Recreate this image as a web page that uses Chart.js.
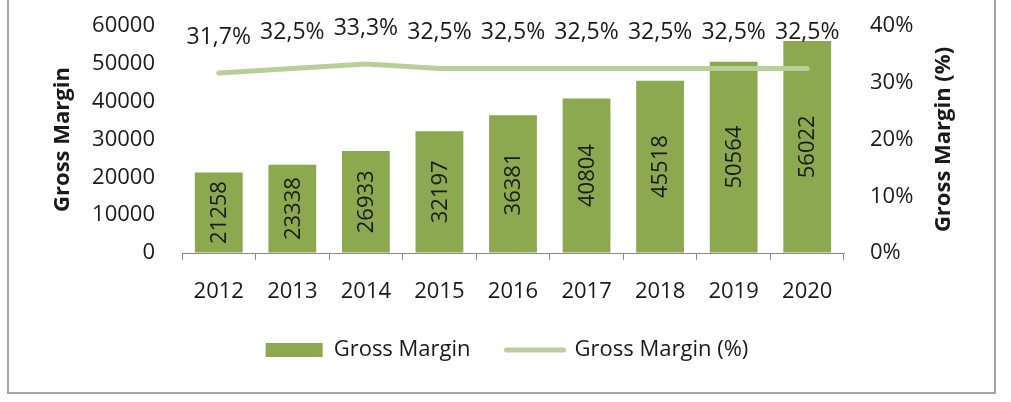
<!DOCTYPE html>
<html>
<head>
<meta charset="utf-8">
<script src="https://cdn.jsdelivr.net/npm/chart.js@4/dist/chart.umd.min.js"></script>
<style>
  html, body { margin: 0; padding: 0; background: #fff; }
  #wrap { position: relative; width: 1011px; height: 402px; overflow: hidden; }
  #frame { position: absolute; left: 7px; top: -3px; width: 989px; height: 397px;
           box-sizing: border-box; border: 2px solid #a6a6a6; pointer-events: none; }
</style>
</head>
<body>
<div id="wrap">
  <canvas id="chart" width="1011" height="402"></canvas>
  <div id="frame"></div>
</div>
<script>
var years = ['2012', '2013', '2014', '2015', '2016', '2017', '2018', '2019', '2020'];
var grossMargin = [21258, 23338, 26933, 32197, 36381, 40804, 45518, 50564, 56022];
var grossMarginPct = [0.317, 0.325, 0.333, 0.325, 0.325, 0.325, 0.325, 0.325, 0.325];

var barColor = '#8ca94f';
var lineColor = '#b8d098';
var textColor = '#1a1a1a';

Chart.defaults.font.family = "'Open Sans', sans-serif";
Chart.defaults.color = textColor;

// labels inside bars, percent labels above the line, right axis title
var labelPlugin = {
  id: 'labels',
  afterDatasetsDraw: function(chart) {
    var ctx = chart.ctx;
    var barMeta = chart.getDatasetMeta(0);
    ctx.save();
    ctx.fillStyle = textColor;
    ctx.font = "22px 'Open Sans'";
    ctx.textAlign = 'center';
    ctx.textBaseline = 'middle';
    barMeta.data.forEach(function(bar, i) {
      var cy = (bar.y + bar.base) / 2;
      ctx.save();
      ctx.translate(bar.x, cy);
      ctx.rotate(-Math.PI / 2);
      ctx.fillText(String(grossMargin[i]), 0, 1);
      ctx.restore();
    });
    var lineMeta = chart.getDatasetMeta(1);
    ctx.font = "23px 'Open Sans'";
    lineMeta.data.forEach(function(pt, i) {
      var txt = (grossMarginPct[i] * 100).toFixed(1).replace('.', ',') + '%';
      ctx.fillText(txt, pt.x, pt.y - 36);
    });
    // right axis title, reading bottom to top
    var area = chart.chartArea;
    ctx.font = "bold 22px 'Open Sans'";
    ctx.translate(944, (area.top + area.bottom) / 2);
    ctx.rotate(-Math.PI / 2);
    ctx.fillText('Gross Margin (%)', 0, 0);
    ctx.restore();
  }
};

new Chart(document.getElementById('chart'), {
  type: 'bar',
  data: {
    labels: years,
    datasets: [
      {
        type: 'bar',
        label: 'Gross Margin',
        data: grossMargin,
        backgroundColor: barColor,
        categoryPercentage: 1,
        barPercentage: 0.65,
        yAxisID: 'y',
        order: 1
      },
      {
        type: 'line',
        label: 'Gross Margin (%)',
        data: grossMarginPct,
        borderColor: lineColor,
        borderWidth: 5,
        borderCapStyle: 'round',
        pointRadius: 0,
        tension: 0,
        yAxisID: 'y1',
        order: 0
      }
    ]
  },
  options: {
    responsive: false,
    animation: false,
    layout: { padding: { left: 40, right: 37, top: 26, bottom: 31 } },
    plugins: {
      tooltip: { enabled: false },
      legend: {
        position: 'bottom',
        labels: {
          usePointStyle: true,
          pointStyleWidth: 57,
          boxHeight: 14,
          padding: 36,
          font: { size: 22 },
          generateLabels: function(chart) {
            return [
              { text: 'Gross Margin', pointStyle: 'rect', fillStyle: barColor,
                strokeStyle: barColor, lineWidth: 0, datasetIndex: 0, fontColor: textColor },
              { text: 'Gross Margin (%)', pointStyle: 'line', fillStyle: lineColor,
                strokeStyle: lineColor, lineWidth: 5, lineCap: 'round', datasetIndex: 1, fontColor: textColor }
            ];
          }
        }
      }
    },
    scales: {
      x: {
        offset: true,
        // long tick length pushes labels down; dash keeps the visible mark short
        grid: { display: true, drawOnChartArea: false, offset: true, tickLength: 28,
                tickBorderDash: [6, 60], color: '#8a8a8a' },
        border: { display: true, color: '#8a8a8a', width: 1 },
        ticks: { padding: 0, autoSkip: false, maxRotation: 0, font: { size: 22, lineHeight: 1 } }
      },
      y: {
        position: 'left',
        min: 0,
        max: 60000,
        grid: { display: true, drawOnChartArea: false, color: 'rgba(0,0,0,0)', tickLength: 27 },
        border: { display: false },
        ticks: { stepSize: 10000, padding: 0, font: { size: 22 },
                 callback: function(v) { return String(v); } },
        title: { display: true, text: 'Gross Margin', padding: { top: 10, bottom: 0 },
                 font: { size: 22, weight: 'bold' } },
        afterFit: function(s) { s.width = 142; }
      },
      y1: {
        position: 'right',
        min: 0,
        max: 0.4,
        grid: { display: true, drawOnChartArea: false, color: 'rgba(0,0,0,0)', tickLength: 26 },
        border: { display: false },
        ticks: {
          stepSize: 0.1,
          padding: 0,
          font: { size: 22 },
          callback: function(v) { return Math.round(v * 100) + '%'; }
        },
        afterFit: function(s) { s.width = 130; }
      }
    }
  },
  plugins: [labelPlugin]
});
</script>
</body>
</html>
